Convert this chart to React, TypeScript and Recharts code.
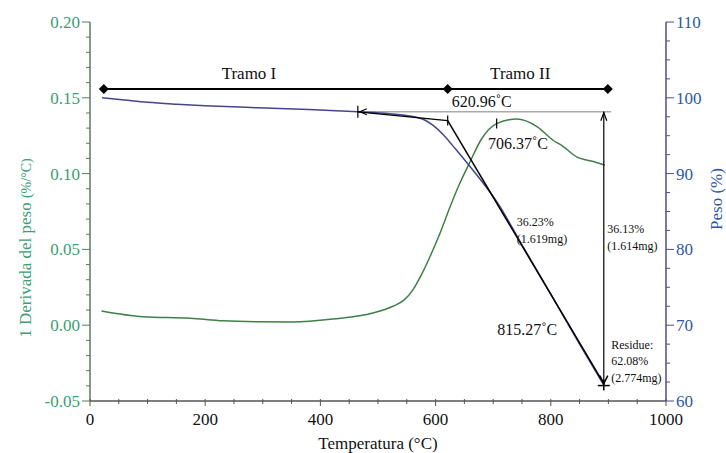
import {
  ComposedChart,
  Line,
  XAxis,
  YAxis,
  ReferenceLine,
  ReferenceDot,
} from 'recharts';

// DTG curve (left axis, %/°C)
const dtgTemp = [20, 92, 174, 231, 300, 352, 422, 491, 526, 545, 560, 575, 590, 608, 625, 639, 660, 680, 706, 741, 776, 804, 821, 845, 874, 894];
const dtgValue = [0.0094, 0.0056, 0.0046, 0.0029, 0.0022, 0.0021, 0.0041, 0.008, 0.0125, 0.0165, 0.023, 0.033, 0.045, 0.061, 0.078, 0.091, 0.108, 0.123, 0.133, 0.136, 0.131, 0.122, 0.118, 0.111, 0.108, 0.1057];

// TG curve (right axis, %)
const tgTemp = [21, 60, 100, 150, 200, 292, 380, 465, 520, 573, 595, 615, 635, 660, 685, 707, 750, 800, 850, 892];
const tgWeight = [100.0, 99.7, 99.4, 99.15, 98.95, 98.68, 98.45, 98.15, 97.9, 97.3, 96.4, 95.0, 93.2, 90.9, 88.5, 86.2, 80.6, 74.1, 67.5, 62.1];

const xTicks = [0, 50, 100, 150, 200, 250, 300, 350, 400, 450, 500, 550, 600, 650, 700, 750, 800, 850, 900, 950, 1000];
const leftTicks = [-0.05, -0.04, -0.03, -0.02, -0.01, 0, 0.01, 0.02, 0.03, 0.04, 0.05, 0.06, 0.07, 0.08, 0.09, 0.1, 0.11, 0.12, 0.13, 0.14, 0.15, 0.16, 0.17, 0.18, 0.19, 0.2];
const rightTicks = [60, 62.5, 65, 67.5, 70, 72.5, 75, 77.5, 80, 82.5, 85, 87.5, 90, 92.5, 95, 97.5, 100, 102.5, 105, 107.5, 110];

// annotation points (temperature, weight %)
const bracketTemps = [24, 621, 899];
const bracketLevel = 101.16;
const onsetStart = { t: 465, w: 98.15 };
const onsetCorner = { t: 621, w: 97.0 };
const endPoint = { t: 892, w: 62.3 };
const notes = [
  { t: 276, w: 103.3, text: 'Tramo I', size: 17, anchor: 'middle' },
  { t: 747, w: 103.3, text: 'Tramo II', size: 17, anchor: 'middle' },
  { t: 680, w: 99.5, text: '620.96˚C', size: 16, anchor: 'middle' },
  { t: 691, w: 94.0, text: '706.37˚C', size: 16, anchor: 'start' },
  { t: 741, w: 83.6, text: '36.23%', size: 12, anchor: 'start' },
  { t: 741, w: 81.4, text: '(1.619mg)', size: 12, anchor: 'start' },
  { t: 898, w: 82.7, text: '36.13%', size: 12, anchor: 'start' },
  { t: 898, w: 80.45, text: '(1.614mg)', size: 12, anchor: 'start' },
  { t: 707, w: 69.4, text: '815.27˚C', size: 16, anchor: 'start' },
  { t: 905, w: 67.4, text: 'Residue:', size: 12, anchor: 'start' },
  { t: 905, w: 65.3, text: '62.08%', size: 12, anchor: 'start' },
  { t: 905, w: 63.0, text: '(2.774mg)', size: 12, anchor: 'start' },
];

const dtgData = dtgTemp.map((t, i) => ({ t, v: dtgValue[i] }));
const tgData = tgTemp.map((t, i) => ({ t, w: tgWeight[i] }));

const FONT = '"Liberation Serif", "Times New Roman", serif';
const GREEN = '#3f7f49';
const GREEN_TXT = '#3aa072';
const BLUE = '#45458f';
const BLUE_TXT = '#2d58a8';
const LEFT_AXIS = '#5d7a5d';
const RIGHT_AXIS = '#4f4f82';
const FRAME = '#555';

const LeftTick = ({ x, y, payload }: any) => {
  const v = payload.value;
  const major = Math.round(v * 100) % 5 === 0;
  return (
    <g>
      <line x1={x - (major ? 8 : 4)} x2={x} y1={y} y2={y} stroke={LEFT_AXIS} />
      {major && (
        <text x={x - 10} y={y} dy={6} textAnchor="end" fill={GREEN_TXT} fontSize={17} fontFamily={FONT}>
          {v.toFixed(2)}
        </text>
      )}
    </g>
  );
};

const RightTick = ({ x, y, payload }: any) => {
  const v = payload.value;
  const major = v % 10 === 0;
  return (
    <g>
      <line x1={x} x2={x + (major ? 8 : 4)} y1={y} y2={y} stroke={RIGHT_AXIS} />
      {major && (
        <text x={x + 10} y={y} dy={6} textAnchor="start" fill={BLUE_TXT} fontSize={17} fontFamily={FONT}>
          {v}
        </text>
      )}
    </g>
  );
};

const BottomTick = ({ x, y, payload }: any) => {
  const v = payload.value;
  const major = v % 200 === 0;
  return (
    <g>
      <line x1={x} x2={x} y1={y - 2} y2={y + (major ? 5 : 3)} stroke={FRAME} />
      {major && (
        <text x={x} y={y + 24} textAnchor="middle" fill="#111" fontSize={17} fontFamily={FONT}>
          {v}
        </text>
      )}
    </g>
  );
};

const diamond = ({ cx, cy }: any) => (
  <path d={`M${cx - 5},${cy} L${cx},${cy - 5} L${cx + 5},${cy} L${cx},${cy + 5} Z`} fill="#000" />
);

const leftArrow = ({ cx, cy }: any) => (
  <g stroke="#000" strokeWidth={1.2} fill="none">
    <path d={`M${cx + 9},${cy - 3} L${cx + 2},${cy} L${cx + 9},${cy + 3}`} />
    <line x1={cx} x2={cx} y1={cy - 6} y2={cy + 6} />
  </g>
);

const cornerTick = ({ cx, cy }: any) => (
  <line x1={cx} x2={cx} y1={cy - 5} y2={cy + 5} stroke="#000" strokeWidth={1.2} />
);

const upArrow = ({ cx, cy }: any) => (
  <path d={`M${cx - 3},${cy + 9} L${cx},${cy + 1} L${cx + 3},${cy + 9}`} stroke="#000" strokeWidth={1.2} fill="none" />
);

const endMark = ({ cx, cy }: any) => (
  <g stroke="#000" strokeWidth={1.5} fill="none">
    <path d={`M${cx - 4},${cy - 8} L${cx},${cy} L${cx + 4},${cy - 8}`} />
    <line x1={cx - 6} x2={cx + 6} y1={cy + 2} y2={cy + 2} />
    <line x1={cx} x2={cx} y1={cy - 4} y2={cy + 7} />
  </g>
);

const noteShape = (n: any) => ({ cx, cy }: any) => (
  <text x={cx} y={cy} dy={n.size * 0.35} textAnchor={n.anchor} fontSize={n.size} fontFamily={FONT} fill="#111">
    {n.text}
  </text>
);

export default function App() {
  return (
    <div style={{ position: 'absolute', left: 0, top: 0 }}>
      <ComposedChart width={726} height={453} margin={{ top: 22, right: 0, bottom: 0, left: 0 }}>
        <XAxis
          dataKey="t"
          type="number"
          domain={[0, 1000]}
          ticks={xTicks}
          interval={0}
          height={52}
          tickSize={0}
          tickMargin={0}
          tickLine={false}
          tick={<BottomTick />}
          axisLine={{ stroke: FRAME, strokeWidth: 1.5 }}
          label={{ value: 'Temperatura (°C)', position: 'insideBottom', offset: 4, fill: '#111', fontSize: 17, fontFamily: FONT }}
        />
        <XAxis
          xAxisId="top"
          orientation="top"
          type="number"
          domain={[0, 1000]}
          height={0}
          tick={false}
          tickLine={false}
          axisLine={{ stroke: FRAME, strokeWidth: 1.5 }}
        />
        <YAxis
          yAxisId="left"
          type="number"
          domain={[-0.05, 0.2]}
          ticks={leftTicks}
          interval={0}
          width={90}
          tickSize={0}
          tickMargin={0}
          tickLine={false}
          tick={<LeftTick />}
          axisLine={{ stroke: LEFT_AXIS, strokeWidth: 1.5 }}
          label={{
            content: () => (
              <text transform="rotate(-90, 25, 248)" x={25} y={248} dy={6} textAnchor="middle" fill={GREEN_TXT} fontFamily={FONT} fontSize={17}>
                <tspan>1 Derivada del peso </tspan>
                <tspan fontSize={14}>(%/°C)</tspan>
              </text>
            ),
          }}
        />
        <YAxis
          yAxisId="right"
          orientation="right"
          type="number"
          domain={[60, 110]}
          ticks={rightTicks}
          interval={0}
          width={60}
          tickSize={0}
          tickMargin={0}
          tickLine={false}
          tick={<RightTick />}
          axisLine={{ stroke: RIGHT_AXIS, strokeWidth: 1.5 }}
          label={{
            content: () => (
              <text transform="rotate(-90, 716, 199)" x={716} y={199} dy={6} textAnchor="middle" fill={BLUE_TXT} fontFamily={FONT} fontSize={17}>
                Peso (%)
              </text>
            ),
          }}
        />

        {/* bracket across the top */}
        <ReferenceLine
          yAxisId="right"
          segment={[{ x: bracketTemps[0], y: bracketLevel }, { x: bracketTemps[2], y: bracketLevel }]}
          stroke="#000"
          strokeWidth={2}
        />
        {bracketTemps.map((t) => (
          <ReferenceDot key={t} yAxisId="right" x={t} y={bracketLevel} r={5} shape={diamond} />
        ))}

        {/* grey reference level */}
        <ReferenceLine
          yAxisId="right"
          segment={[{ x: onsetStart.t, y: onsetStart.w }, { x: 905, y: onsetStart.w }]}
          stroke="#aaa"
          strokeWidth={1.5}
        />

        <Line data={dtgData} yAxisId="left" dataKey="v" type="monotone" stroke={GREEN} strokeWidth={1.5} dot={false} isAnimationActive={false} />
        <Line data={tgData} yAxisId="right" dataKey="w" type="monotone" stroke={BLUE} strokeWidth={1.5} dot={false} isAnimationActive={false} />

        {/* onset tangents */}
        <ReferenceLine
          yAxisId="right"
          segment={[{ x: onsetStart.t, y: onsetStart.w }, { x: onsetCorner.t, y: onsetCorner.w }]}
          stroke="#000"
          strokeWidth={1.2}
        />
        <ReferenceLine
          yAxisId="right"
          segment={[{ x: onsetCorner.t, y: onsetCorner.w }, { x: endPoint.t, y: endPoint.w }]}
          stroke="#000"
          strokeWidth={1.5}
        />
        {/* mass loss arrow */}
        <ReferenceLine
          yAxisId="right"
          segment={[{ x: endPoint.t, y: onsetStart.w }, { x: endPoint.t, y: endPoint.w }]}
          stroke="#000"
          strokeWidth={1.2}
        />
        <ReferenceDot yAxisId="right" x={onsetStart.t} y={onsetStart.w} r={3} shape={leftArrow} />
        <ReferenceDot yAxisId="right" x={onsetCorner.t} y={onsetCorner.w} r={3} shape={cornerTick} />
        <ReferenceDot yAxisId="right" x={endPoint.t} y={onsetStart.w} r={3} shape={upArrow} />
        <ReferenceDot yAxisId="right" x={endPoint.t} y={endPoint.w} r={3} shape={endMark} />
        <ReferenceDot yAxisId="left" x={706} y={0.133} r={3} shape={cornerTick} />

        {notes.map((n) => (
          <ReferenceDot key={n.text} yAxisId="right" x={n.t} y={n.w} r={1} shape={noteShape(n)} />
        ))}
      </ComposedChart>
    </div>
  );
}
